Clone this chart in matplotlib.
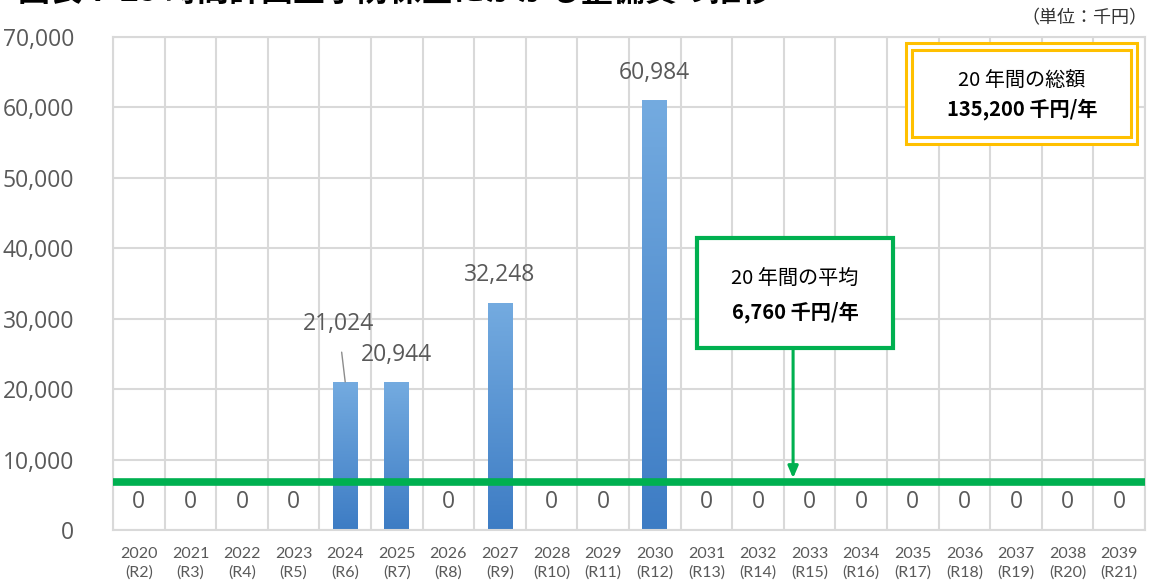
import numpy as np
import matplotlib
matplotlib.use("Agg")
import matplotlib.pyplot as plt
from matplotlib.colors import LinearSegmentedColormap
from matplotlib.patches import Rectangle
from matplotlib.ticker import FuncFormatter

# 年度ごとの整備費（千円）
years = [str(y) for y in range(2020, 2040)]
reiwa = ["R2", "R3", "R4", "R5", "R6", "R7", "R8", "R9", "R10", "R11",
         "R12", "R13", "R14", "R15", "R16", "R17", "R18", "R19", "R20", "R21"]
costs = [0, 0, 0, 0, 21024, 20944, 0, 32248, 0, 0,
         60984, 0, 0, 0, 0, 0, 0, 0, 0, 0]
total = 135200
average = 6760

title = "図表 7-25 時間計画型予防保全にかかる整備費の推移"
unit = "（単位：千円）"

jp = ["Noto Sans CJK JP", "DejaVu Sans"]
plt.rcParams["font.family"] = ["Lato", "Noto Sans CJK JP", "DejaVu Sans"]

gray = "#595959"
grid = "#d9d9d9"
green = "#00b050"
gold = "#ffc000"

fig = plt.figure(figsize=(11.51, 5.82), dpi=100)
ax = fig.add_axes([113 / 1151, 52 / 582, 1032 / 1151, 493 / 582])

x = np.arange(len(years))
bars = ax.bar(x, costs, width=0.48, color="#5b9bd5", zorder=2)

# グラデーション塗り
cmap = LinearSegmentedColormap.from_list("g", ["#3d7cc4", "#74abe0"])
grad = np.linspace(0, 1, 256).reshape(-1, 1)
for b in bars:
    h = b.get_height()
    if h <= 0:
        continue
    x0 = b.get_x()
    im = ax.imshow(grad, extent=[x0, x0 + b.get_width(), 0, h], origin="lower",
                   aspect="auto", cmap=cmap, zorder=2.1)
    im.set_clip_path(b)

ax.set_xlim(-0.5, len(years) - 0.5)
ax.set_ylim(0, 70000)

# 目盛・グリッド
ax.set_yticks(np.arange(0, 70001, 10000))
ax.yaxis.set_major_formatter(FuncFormatter(lambda v, p: f"{int(v):,}"))
ax.set_xticks(x)
ax.set_xticklabels([f"{y}\n({r})" for y, r in zip(years, reiwa)],
                   fontsize=11.5, color=gray, linespacing=1.4)
ax.set_xticks(np.arange(-0.5, len(years)), minor=True)
ax.tick_params(axis="y", length=0, pad=28, labelsize=16.5, labelcolor=gray)
ax.tick_params(axis="x", which="both", length=0, pad=12)
for lbl in ax.get_yticklabels():
    lbl.set_fontfamily("Open Sans")
ax.grid(axis="y", color=grid, lw=1.5, zorder=0)
ax.grid(axis="x", which="minor", color=grid, lw=1.5, zorder=0)
for s in ax.spines.values():
    s.set_color(grid)
    s.set_linewidth(1.5)

# データラベル
for i, v in enumerate(costs):
    if i == 4:
        ax.annotate(f"{v:,}", xy=(i, v), xytext=(-5, 42), textcoords="offset points",
                    ha="center", va="center", fontsize=16.5, color=gray, family="Open Sans",
                    arrowprops=dict(arrowstyle="-", color="#8c8c8c", lw=1,
                                    shrinkA=10, shrinkB=0))
    else:
        ax.annotate(f"{v:,}", xy=(i, v), xytext=(0, 20), textcoords="offset points",
                    ha="center", va="center", fontsize=16.5, color=gray, family="Open Sans")

# 平均線
ax.axhline(average, color=green, lw=5.5, zorder=4)

# 平均の注記ボックス
ax.add_patch(Rectangle((0.566, 0.369), 0.19, 0.223, transform=ax.transAxes,
                       facecolor="white", edgecolor=green, lw=3, zorder=5))
ax.text(0.661, 0.508, "20 年間の平均", transform=ax.transAxes, ha="center",
        va="center", fontsize=14.5, family=jp, zorder=6)
ax.text(0.661, 0.443, f"{average:,} 千円/年", transform=ax.transAxes, ha="center",
        va="center", fontsize=14.5, family=jp, fontweight="bold", zorder=6)
ax.annotate("", xy=(0.659, average), xycoords=("axes fraction", "data"),
            xytext=(0.659, 0.366), textcoords="axes fraction",
            arrowprops=dict(arrowstyle="-|>,head_length=0.7,head_width=0.3",
                            color=green, lw=2.2, shrinkA=0, shrinkB=3), zorder=5)

# 総額の注記ボックス（二重線）
ax.add_patch(Rectangle(((906 - 113) / 1032, (530 - 144) / 493), 231 / 1032, 101 / 493,
                       transform=ax.transAxes, facecolor="white", edgecolor=gold,
                       lw=2.2, zorder=5))
ax.add_patch(Rectangle(((912 - 113) / 1032, (530 - 137) / 493), 219 / 1032, 87 / 493,
                       transform=ax.transAxes, facecolor="none", edgecolor=gold,
                       lw=2.2, zorder=5))
ax.text((1022 - 113) / 1032, (530 - 80) / 493, "20 年間の総額", transform=ax.transAxes,
        ha="center", va="center", fontsize=14.5, family=jp, zorder=6)
ax.text((1022 - 113) / 1032, (530 - 109) / 493, f"{total:,} 千円/年",
        transform=ax.transAxes, ha="center", va="center", fontsize=14.5, family=jp,
        fontweight="bold", zorder=6)

fig.text(1147 / 1151, 1 - 18 / 582, unit, ha="right", va="center", fontsize=13,
         color="#333333", family=jp)
fig.text(18 / 1151, 1 - 1 / 582, title, ha="left", va="baseline", fontsize=23,
         fontweight="bold", family=jp)

fig.savefig("out.png", dpi=100)
